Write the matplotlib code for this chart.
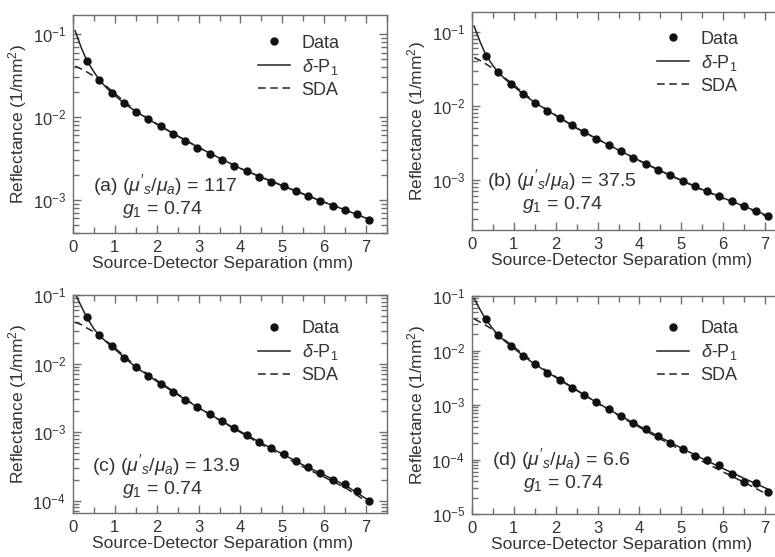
import matplotlib
matplotlib.use("Agg")
import matplotlib.pyplot as plt
from matplotlib.ticker import LogLocator, MultipleLocator, NullFormatter

plt.rcParams['font.family'] = ['Liberation Sans', 'DejaVu Sans']
plt.rcParams['mathtext.fontset'] = 'custom'
plt.rcParams['mathtext.rm'] = 'Liberation Sans'
plt.rcParams['mathtext.it'] = 'Liberation Sans:italic'
plt.rcParams['mathtext.bf'] = 'Liberation Sans:bold'

# ---------------- data ----------------
x_data = [0.33, 0.62, 0.92, 1.21, 1.50, 1.80, 2.09, 2.38, 2.68, 2.97, 3.27, 3.56,
          3.85, 4.15, 4.44, 4.73, 5.03, 5.32, 5.61, 5.91, 6.20, 6.49, 6.79, 7.08]
x_line = [0.05, 0.2, 0.33, 0.5, 0.62, 0.8, 1.0, 1.25, 1.5, 2.0, 2.5, 3.0,
          3.5, 4.0, 4.5, 5.0, 5.5, 6.0, 6.5, 7.05]

data_a = [0.047, 0.0279, 0.0197, 0.0148, 0.0116, 0.0094, 0.0077, 0.0062, 0.00516, 0.00426,
          0.00358, 0.00303, 0.00259, 0.00222, 0.00190, 0.00167, 0.00146, 0.00127, 0.00111,
          0.00096, 0.00085, 0.00075, 0.00067, 0.00058]
dp1_a = [0.11, 0.068, 0.048, 0.035, 0.0285, 0.0225, 0.0182, 0.0143, 0.0117, 0.0082, 0.0059,
         0.0043, 0.0032, 0.0024, 0.00188, 0.00149, 0.00118, 0.00094, 0.00076, 0.00059]
sda_a = [0.041, 0.038, 0.035, 0.031, 0.028, 0.0235, 0.0192, 0.0150, 0.0120, 0.0083, 0.0059,
         0.0043, 0.0032, 0.0024, 0.00188, 0.00149, 0.00118, 0.00094, 0.00076, 0.00059]

data_b = [0.048, 0.0286, 0.0199, 0.0146, 0.0111, 0.00865, 0.00688, 0.00547, 0.00444, 0.0036,
          0.00293, 0.00243, 0.0020, 0.00165, 0.00138, 0.00116, 0.00097, 0.00083, 0.00070,
          0.00061, 0.00051, 0.00045, 0.00038, 0.00032]
dp1_b = [0.12, 0.072, 0.049, 0.035, 0.0288, 0.0228, 0.0183, 0.0140, 0.0111, 0.0074, 0.0050,
         0.00355, 0.00253, 0.00182, 0.00133, 0.00099, 0.00074, 0.00057, 0.00044, 0.00033]
sda_b = [0.045, 0.041, 0.037, 0.032, 0.0285, 0.0235, 0.0192, 0.0146, 0.0114, 0.0075, 0.0050,
         0.00355, 0.00252, 0.00181, 0.00132, 0.00098, 0.00073, 0.00056, 0.00043, 0.00032]

data_c = [0.047, 0.0262, 0.0178, 0.0122, 0.00886, 0.00664, 0.00504, 0.00386, 0.00296, 0.0023,
          0.00182, 0.00144, 0.00114, 0.000906, 0.000718, 0.000581, 0.000471, 0.000377,
          0.000309, 0.000253, 0.000201, 0.000172, 0.000139, 0.000100]
dp1_c = [0.105, 0.068, 0.047, 0.032, 0.0262, 0.0205, 0.0162, 0.0118, 0.0089, 0.0055, 0.0035,
         0.00226, 0.00151, 0.00102, 0.00069, 0.00048, 0.00033, 0.000236, 0.000168, 0.000102]
sda_c = [0.040, 0.037, 0.033, 0.029, 0.0255, 0.0212, 0.0170, 0.0124, 0.0093, 0.0057, 0.0036,
         0.00228, 0.00149, 0.00099, 0.00066, 0.00045, 0.00031, 0.00022, 0.000155, 0.000094]

data_d = [0.0374, 0.0191, 0.0120, 0.00798, 0.00554, 0.0039, 0.00282, 0.00205, 0.00152, 0.00112,
          0.000834, 0.000621, 0.000475, 0.000359, 0.000271, 0.000202, 0.000159, 0.000118,
          0.0000959, 0.0000777, 0.0000547, 0.000039, 0.0000369, 0.0000252]
dp1_d = [0.09, 0.055, 0.037, 0.025, 0.0193, 0.0145, 0.0110, 0.0077, 0.0056, 0.0032, 0.00185,
         0.00109, 0.00066, 0.00041, 0.000255, 0.000162, 0.000104, 0.000068, 0.000045, 0.000029]
sda_d = [0.038, 0.033, 0.029, 0.024, 0.0195, 0.0152, 0.0117, 0.0082, 0.0059, 0.0033, 0.00188,
         0.00108, 0.00064, 0.00039, 0.000238, 0.000148, 0.000093, 0.000059, 0.000038, 0.000023]

labels = ["(a)", "(b)", "(c)", "(d)"]
ratios = ["117", "37.5", "13.9", "6.6"]
g1 = "0.74"
xlabel = "Source-Detector Separation (mm)"
ylabel = "Reflectance (1/mm$^2$)"
legend_labels = ["Data", r"$\delta$-P$_1$", "SDA"]

# ---------------- layout ----------------
W, H = 775, 557
fig = plt.figure(figsize=(W / 100, H / 100), dpi=100)

def ax_at(l, r, t, b):
    return fig.add_axes([l / W, (H - b) / H, (r - l) / W, (b - t) / H])

panels = [
    dict(rect=(73, 387, 15, 233), ylim=(4.0e-4, 0.17), data=data_a, dp1=dp1_a, sda=sda_a,
         leg=(0.59, 0.91), t1=(0.064, 0.19), t2=(0.156, 0.085)),
    dict(rect=(472, 786, 12, 230), ylim=(2.1e-4, 0.186), data=data_b, dp1=dp1_b, sda=sda_b,
         leg=(0.59, 0.915), t1=(0.048, 0.20), t2=(0.16, 0.095)),
    dict(rect=(73, 387, 295, 513), ylim=(6.6e-5, 0.1), data=data_c, dp1=dp1_c, sda=sda_c,
         leg=(0.59, 0.885), t1=(0.06, 0.19), t2=(0.156, 0.085)),
    dict(rect=(472, 786, 296, 514), ylim=(1e-5, 0.1), data=data_d, dp1=dp1_d, sda=sda_d,
         leg=(0.59, 0.89), t1=(0.064, 0.225), t2=(0.163, 0.12)),
]

spine_col = '#6e6e6e'
text_col = '#333333'
line_col = '#222222'

for i, p in enumerate(panels):
    ax = ax_at(*p['rect'])
    ax.set_yscale('log')
    ax.plot(x_line, p['dp1'], '-', color=line_col, lw=1.1, label=legend_labels[1], zorder=2)
    ax.plot(x_line, p['sda'], '--', color=line_col, lw=1.1, dashes=(5, 3), label=legend_labels[2], zorder=2)
    ax.plot(x_data, p['data'], 'o', color='#111111', ms=5, ls='none', label=legend_labels[0], zorder=3)
    ax.set_xlim(0, 7.5)
    ax.set_ylim(*p['ylim'])
    ax.xaxis.set_major_locator(MultipleLocator(1))
    ax.xaxis.set_minor_locator(MultipleLocator(0.5))
    ax.yaxis.set_major_locator(LogLocator(base=10, numticks=10))
    ax.yaxis.set_minor_locator(LogLocator(base=10, subs=range(2, 10), numticks=20))
    ax.yaxis.set_minor_formatter(NullFormatter())
    ax.tick_params(which='both', direction='in', top=True, right=True, color=spine_col,
                   labelcolor=text_col, labelsize=12, width=1.0)
    ax.tick_params(which='major', length=6, pad=5)
    ax.tick_params(which='minor', length=4)
    for s in ax.spines.values():
        s.set_color(spine_col)
        s.set_linewidth(1.0)
    ax.set_xlabel(xlabel, fontsize=12.5, color=text_col)
    ax.set_ylabel(ylabel, fontsize=12.5, color=text_col)
    ax.xaxis.set_label_coords(0.475, -0.105)
    ax.yaxis.set_label_coords(-0.14, 0.5)

    h, l = ax.get_legend_handles_labels()
    order = [2, 0, 1]
    ax.legend([h[k] for k in order], [l[k] for k in order], loc='upper left',
              bbox_to_anchor=p['leg'], frameon=False, fontsize=13, borderpad=0,
              borderaxespad=0, handlelength=1.75, handletextpad=0.65, labelspacing=0.28,
              labelcolor=text_col)

    ax.text(p['t1'][0], p['t1'][1],
            labels[i] + r" $(\mu'_s/\mu_a)$ = " + ratios[i],
            transform=ax.transAxes, fontsize=14, color=text_col, va='baseline', ha='left')
    ax.text(p['t2'][0], p['t2'][1], r"$g_1$ = " + g1,
            transform=ax.transAxes, fontsize=14, color=text_col, va='baseline', ha='left')

fig.savefig("out.png", dpi=100)
